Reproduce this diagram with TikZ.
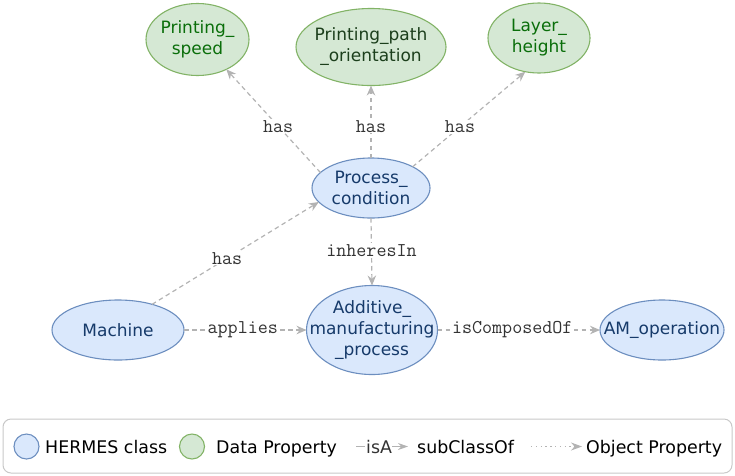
\documentclass[tikz,border=0pt]{standalone}
\usepackage{fontspec}
\setmainfont{DejaVu Sans}
\usetikzlibrary{shapes.geometric,arrows.meta}
\definecolor{bfill}{HTML}{DAE8FC}
\definecolor{bdraw}{HTML}{6C8EBF}
\definecolor{gfill}{HTML}{D5E8D4}
\definecolor{gdraw}{HTML}{82B366}
\definecolor{btext}{HTML}{163A6A}
\definecolor{gtext}{HTML}{0A6E0A}
\definecolor{gtextd}{HTML}{1C3F1C}
\definecolor{edgec}{HTML}{B3B3B3}
\definecolor{legc}{HTML}{C8C8C8}
\definecolor{labc}{HTML}{333333}
\tikzset{
  cls/.style={ellipse, draw=bdraw, fill=bfill, line width=1.1pt, inner sep=0pt, outer sep=0pt},
  dat/.style={ellipse, draw=gdraw, fill=gfill, line width=1.1pt, inner sep=0pt, outer sep=0pt},
  nodetxt/.style={font=\fontsize{17}{21}\selectfont, align=center, inner sep=0pt},
  rel/.style={draw=edgec, line width=1.2pt, dash pattern=on 4.5pt off 3.5pt, -{Stealth[length=10pt,width=8.5pt]}},
  rellab/.style={font=\ttfamily\fontsize{19.5}{22}\selectfont, fill=white, inner sep=1pt, text=labc},
  legtxt/.style={font=\fontsize{17.4}{20}\selectfont, anchor=base west, inner sep=0pt},
}
\begin{document}
\begin{tikzpicture}[x=1pt,y=-1pt]
\useasboundingbox (0,0) rectangle (735,475);
% data properties
\node[dat, minimum width=103pt, minimum height=72pt,
  label={[nodetxt, text=gtext]center:Printing\_\\speed}] (ps) at (197.5,39.5) {};
\node[dat, minimum width=150pt, minimum height=77pt,
  label={[nodetxt, text=gtextd]center:Printing\_path\\\_orientation}] (pp) at (371,47) {};
\node[dat, minimum width=102pt, minimum height=70pt,
  label={[nodetxt, text=gtext]center:Layer\_\\height}] (lh) at (539,38) {};
% classes
\node[cls, minimum width=118pt, minimum height=60pt,
  label={[nodetxt, text=btext]center:Process\_\\condition}] (pc) at (371,188) {};
\node[cls, minimum width=132pt, minimum height=60pt,
  label={[nodetxt, text=btext]center:Machine}] (ma) at (118,330) {};
\node[cls, minimum width=131pt, minimum height=89pt,
  label={[nodetxt, text=btext]center:Additive\_\\manufacturing\\\_process}] (amp) at (372,330) {};
\node[cls, minimum width=124pt, minimum height=60pt,
  label={[nodetxt, text=btext]center:AM\_operation}] (amo) at (662,330) {};
% relations
\draw[rel] (pc.163) -- node[rellab, pos=.45]{has} (ps.-46);
\draw[rel] (pc.north) -- node[rellab, pos=.44]{has} (pp.south);
\draw[rel] (pc.27) -- node[rellab, pos=.42]{has} (lh.248);
\draw[rel] (ma.37) -- node[rellab, pos=.45]{has} (pc.195);
\draw[rel] (pc.south) -- node[rellab, pos=.48]{inheresIn} (amp.north);
\draw[rel] (ma.east) -- node[rellab, pos=.48]{applies} (amp.west);
\draw[rel] (amp.east) -- node[rellab, pos=.46]{isComposedOf} (amo.west);
% legend
\draw[legc, line width=1pt, rounded corners=8pt] (3,419) rectangle (732,473);
\node[cls, circle, minimum size=25pt] (lc1) at (26.5,446.5) {};
\node[legtxt] (lt1) at (45,453.5) {HERMES class};
\node[dat, circle, minimum size=25pt] (lc2) at (192,446.5) {};
\node[legtxt] (lt2) at (216,453.5) {Data Property};
\coordinate (isa0) at (356,446.5);
\coordinate (isa1) at (365,446.5);
\node[legtxt, text=labc] (lt3) at (366,453.5) {isA};
\coordinate (isa2) at (392,446.5);
\coordinate (isa3) at (408,446.5);
\draw[edgec, line width=1pt] (isa0) -- (isa1);
\draw[edgec, line width=1pt, -{Stealth[length=10pt,width=7pt]}] (isa2) -- (isa3);
\node[legtxt] (lt4) at (417,453.5) {subClassOf};
\coordinate (dot0) at (531,446.5);
\coordinate (dot1) at (582,446.5);
\draw[edgec, line width=1.3pt, dash pattern=on 1.3pt off 3.5pt, -{Stealth[length=11pt,width=8pt]}] (dot0) -- (dot1);
\node[legtxt] (lt5) at (586,453.5) {Object Property};
\end{tikzpicture}
\end{document}
